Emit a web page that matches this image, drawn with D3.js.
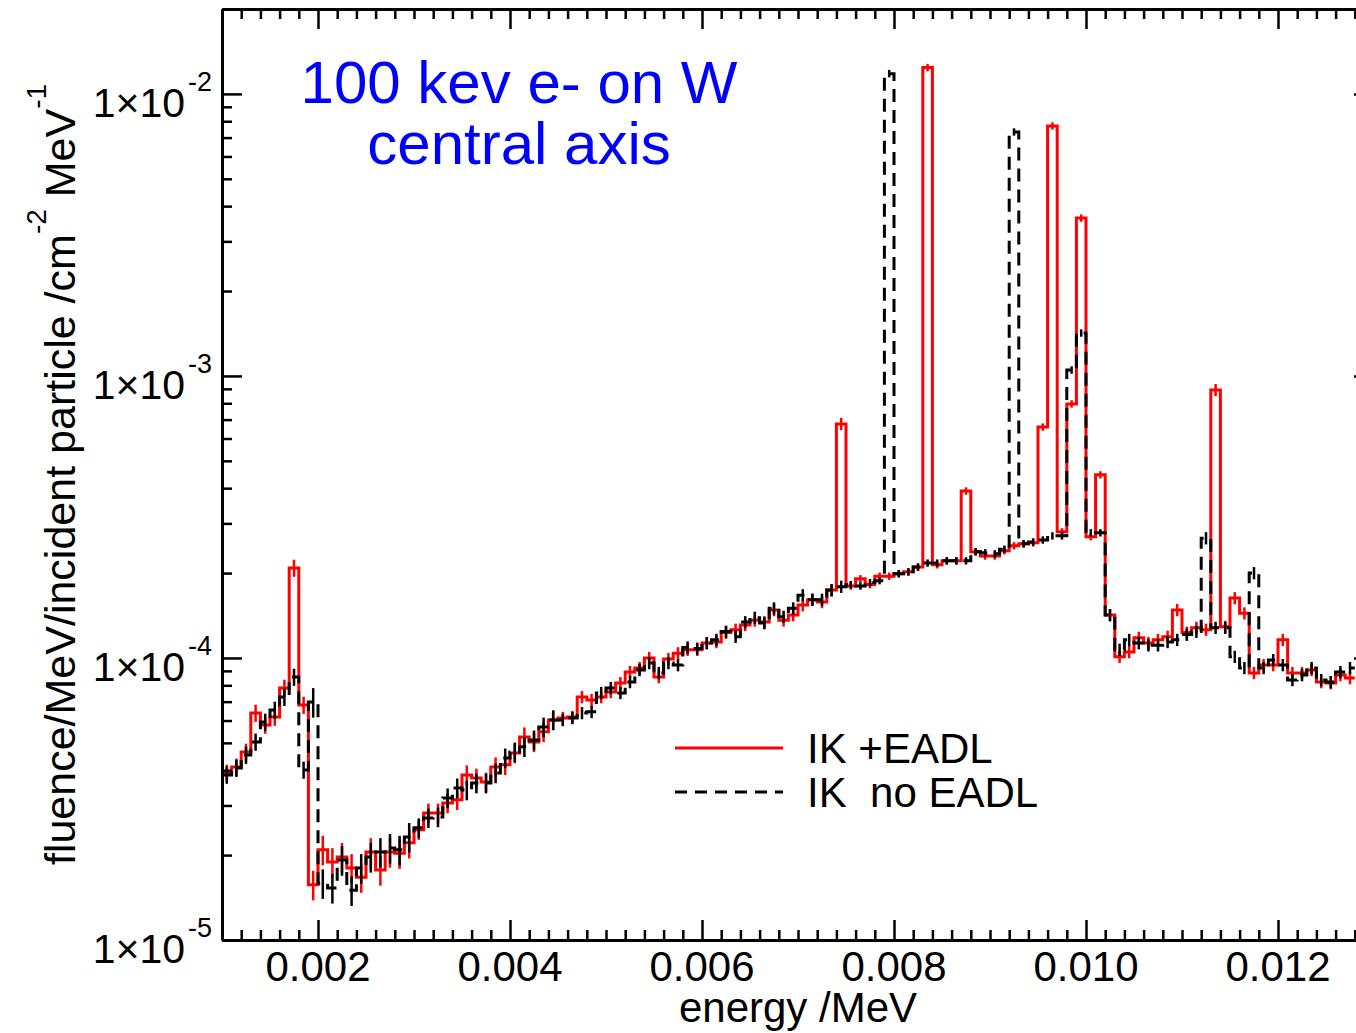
<!DOCTYPE html>
<html><head><meta charset="utf-8">
<script src="https://cdn.jsdelivr.net/npm/d3@7"></script>
<style>
body{margin:0;background:#fff}
svg{display:block}
text{font-family:"Liberation Sans",Arial,Helvetica,sans-serif}
</style>
</head><body>
<svg id="c" width="1356" height="1033"></svg>
<script>
// ---- data ----
const binStart = 0.001;      // MeV, low edge of first bin
const binWidth = 0.0001;     // MeV
const ikEadl = [
 3.91e-5,4.11e-5,4.64e-5,6.38e-5,5.79e-5,6.18e-5,7.83e-5,2.085e-4,6.81e-5,1.57e-5,
 2.09e-5,1.89e-5,1.97e-5,1.80e-5,1.67e-5,2.05e-5,1.77e-5,2.05e-5,2.03e-5,2.21e-5,
 2.46e-5,2.82e-5,2.82e-5,3.06e-5,3.14e-5,3.85e-5,3.75e-5,3.63e-5,4.11e-5,4.18e-5,
 4.60e-5,5.25e-5,5.04e-5,5.47e-5,6.03e-5,6.13e-5,6.18e-5,7.27e-5,7.10e-5,7.27e-5,
 7.58e-5,8.15e-5,8.92e-5,9.22e-5,1.00e-4,8.56e-5,9.92e-5,1.04e-4,1.07e-4,1.07e-4,
 1.13e-4,1.14e-4,1.23e-4,1.26e-4,1.31e-4,1.36e-4,1.34e-4,1.48e-4,1.36e-4,1.42e-4,
 1.54e-4,1.61e-4,1.58e-4,1.74e-4,6.76e-4,1.80e-4,1.91e-4,1.82e-4,1.95e-4,1.95e-4,
 1.99e-4,2.02e-4,2.10e-4,1.24e-2,2.14e-4,2.21e-4,2.21e-4,3.91e-4,2.38e-4,2.30e-4,
 2.30e-4,2.40e-4,2.50e-4,2.54e-4,2.56e-4,6.59e-4,7.70e-3,2.80e-4,7.96e-4,3.63e-3,
 2.69e-4,4.46e-4,1.42e-4,1.01e-4,1.05e-4,1.18e-4,1.13e-4,1.16e-4,1.19e-4,1.48e-4,
 1.23e-4,1.28e-4,1.26e-4,8.92e-4,1.29e-4,1.63e-4,1.44e-4,8.85e-5,9.44e-5,9.44e-5,
 1.16e-4,8.85e-5,8.85e-5,9.07e-5,8.22e-5,8.15e-5,8.70e-5,8.49e-5
];
const ikNoEadl = [
 3.85e-5,4.07e-5,4.53e-5,5.04e-5,5.93e-5,6.54e-5,7.27e-5,8.56e-5,4.01e-5,6.98e-5,
 1.59e-5,1.53e-5,1.92e-5,1.50e-5,1.80e-5,1.97e-5,2.05e-5,2.12e-5,2.09e-5,2.32e-5,
 2.50e-5,2.71e-5,2.73e-5,3.19e-5,3.46e-5,3.40e-5,3.60e-5,3.60e-5,3.91e-5,4.42e-5,
 4.64e-5,4.84e-5,5.12e-5,5.69e-5,6.03e-5,6.03e-5,6.13e-5,6.38e-5,6.44e-5,7.52e-5,
 7.83e-5,7.52e-5,8.22e-5,9.07e-5,9.60e-5,8.85e-5,9.60e-5,9.44e-5,1.09e-4,1.08e-4,
 1.13e-4,1.16e-4,1.24e-4,1.19e-4,1.34e-4,1.39e-4,1.33e-4,1.50e-4,1.40e-4,1.50e-4,
 1.67e-4,1.61e-4,1.61e-4,1.74e-4,1.79e-4,1.82e-4,1.80e-4,1.85e-4,1.88e-4,1.18e-2,
 1.99e-4,2.02e-4,2.10e-4,2.17e-4,2.17e-4,2.21e-4,2.21e-4,2.21e-4,2.38e-4,2.36e-4,
 2.34e-4,2.43e-4,7.33e-3,2.54e-4,2.58e-4,2.62e-4,2.71e-4,2.71e-4,1.05e-3,1.42e-3,
 2.78e-4,2.78e-4,1.42e-4,1.07e-4,1.16e-4,1.13e-4,1.11e-4,1.11e-4,1.14e-4,1.16e-4,
 1.21e-4,1.24e-4,2.66e-4,1.28e-4,1.28e-4,1.01e-4,9.22e-5,2.00e-4,9.22e-5,9.84e-5,
 9.44e-5,8.36e-5,8.70e-5,9.22e-5,8.36e-5,8.22e-5,8.92e-5,9.22e-5
];
// relative statistical uncertainty by energy band (band low edges, MeV)
const errBandEdges = [0.001, 0.0019, 0.003, 0.0045, 0.0075, 0.0102];
const errBandRel   = [0.07,  0.12,   0.08,  0.05,   0.03,   0.05];
const xMajorTicks = [0.002, 0.004, 0.006, 0.008, 0.010, 0.012];
const xTickLabels = ["0.002", "0.004", "0.006", "0.008", "0.010", "0.012"];
const yMajorTicks = [1e-5, 1e-4, 1e-3, 1e-2];
const yTickExponents = ["-5", "-4", "-3", "-2"];
const seriesNames = ["IK +EADL", "IK  no EADL"];
const titleLines = ["100 kev e- on W", "central axis"];

// ---- layout ----
const m = {left:222, top:9, right:1374, bottom:940};
const x = d3.scaleLinear().domain([0.001, 0.013]).range([m.left, m.right]);
const y = d3.scaleLog().domain([1e-5, 2e-2]).range([m.bottom, m.top]);
const FONT = 42;

const svg = d3.select("#c");
svg.append("rect").attr("width",1356).attr("height",1033).attr("fill","#fff");
svg.append("defs").append("clipPath").attr("id","clip").append("rect")
  .attr("x", m.left).attr("y", m.top).attr("width", m.right - m.left).attr("height", m.bottom - m.top);

function relErrAt(i){
  const e = binStart + (i + 0.5) * binWidth;
  let r = errBandRel[0];
  errBandEdges.forEach((b, k) => { if (e >= b) r = errBandRel[k]; });
  return r;
}
function stepData(vals){
  const pts = vals.map((v, i) => [binStart + i * binWidth, v]);
  pts.push([binStart + vals.length * binWidth, vals[vals.length - 1]]);
  return pts;
}
const line = d3.line().x(d => x(d[0])).y(d => y(d[1])).curve(d3.curveStepAfter);

const plot = svg.append("g").attr("clip-path", "url(#clip)");
function drawSeries(vals, color, dash){
  plot.append("path").attr("d", line(stepData(vals)))
    .attr("fill", "none").attr("stroke", color).attr("stroke-width", 3)
    .attr("stroke-dasharray", dash || null).attr("stroke-linejoin","miter");
  plot.append("g").selectAll("line").data(vals).join("line")
    .attr("x1", (d, i) => x(binStart + (i + 0.5) * binWidth))
    .attr("x2", (d, i) => x(binStart + (i + 0.5) * binWidth))
    .attr("y1", (d, i) => y(d * (1 - relErrAt(i))))
    .attr("y2", (d, i) => y(d * (1 + relErrAt(i))))
    .attr("stroke", color).attr("stroke-width", 2.5);
}
drawSeries(ikEadl, "#ff0000", null);
drawSeries(ikNoEadl, "#000000", "13,8");

// ---- axes ----
const xMinor = d3.range(0, 61).map(i => +(0.001 + i * 0.0002).toFixed(4))
  .filter(v => !xMajorTicks.some(t => Math.abs(t - v) < 1e-9));
const yMinor = [];
[-5, -4, -3, -2].forEach(p => { for (let k = 2; k <= 9; k++) { const v = k * Math.pow(10, p); if (v <= 2e-2) yMinor.push(v); } });

function styleAxis(sel){
  sel.select(".domain").attr("stroke", "#000").attr("stroke-width", 3);
  sel.selectAll(".tick line").attr("stroke", "#000").attr("stroke-width", 2.5);
  sel.selectAll(".tick text").remove();
}
function addAxis(axisFn, scale, ticks, size, transform, showDomain){
  const a = axisFn(scale).tickValues(ticks).tickSize(size).tickSizeOuter(0).tickFormat("");
  const g = svg.append("g").attr("transform", transform).call(a);
  styleAxis(g);
  if (!showDomain) g.select(".domain").remove();
  return g;
}
addAxis(d3.axisBottom, x, xMinor, -10, `translate(0,${m.bottom})`, false);
addAxis(d3.axisBottom, x, xMajorTicks, -20, `translate(0,${m.bottom})`, true);
addAxis(d3.axisTop, x, xMinor, -10, `translate(0,${m.top})`, false);
addAxis(d3.axisTop, x, xMajorTicks, -20, `translate(0,${m.top})`, true);
addAxis(d3.axisLeft, y, yMinor, -10, `translate(${m.left},0)`, false);
addAxis(d3.axisLeft, y, yMajorTicks, -20, `translate(${m.left},0)`, true);
addAxis(d3.axisRight, y, yMinor, -10, `translate(${m.right},0)`, false);
addAxis(d3.axisRight, y, yMajorTicks, -20, `translate(${m.right},0)`, true);

// x tick labels
svg.append("g").selectAll("text").data(xMajorTicks).join("text")
  .attr("x", d => x(d)).attr("y", 981).attr("text-anchor", "middle")
  .attr("font-size", FONT).attr("fill", "#000")
  .text((d, i) => xTickLabels[i]);

// y tick labels 1×10^n
const yl = svg.append("g");
yMajorTicks.forEach((t, i) => {
  yl.append("text").attr("x", 185).attr("y", y(t) + 23).attr("text-anchor", "end")
    .attr("font-size", 41).attr("fill", "#000").text("1\u00d710");
  yl.append("text").attr("x", 188).attr("y", y(t) - 3).attr("text-anchor", "start")
    .attr("font-size", 27).attr("fill", "#000").text(yTickExponents[i]);
});

// axis titles
svg.append("text").attr("x", (m.left + m.right) / 2).attr("y", 1022).attr("text-anchor", "middle")
  .attr("font-size", FONT).attr("fill", "#000").text("energy /MeV");

const yt = svg.append("text").attr("transform", `translate(75,${(m.top + m.bottom) / 2}) rotate(-90)`)
  .attr("text-anchor", "middle").attr("font-size", 43).attr("fill", "#000");
yt.append("tspan").text("fluence/MeV/incident particle /cm");
yt.append("tspan").attr("font-size", 28).attr("dy", -29).text("-2");
yt.append("tspan").attr("dy", 29).text(" MeV");
yt.append("tspan").attr("font-size", 28).attr("dy", -29).text("-1");

// title
svg.append("g").selectAll("text").data(titleLines).join("text")
  .attr("x", 519).attr("y", (d, i) => 103 + i * 61).attr("text-anchor", "middle")
  .attr("font-size", 60).attr("fill", "#0000ff").text(d => d);

// legend
const lg = svg.append("g");
const legendStyles = [{c:"#ff0000", dash:null}, {c:"#000000", dash:"12,8"}];
seriesNames.forEach((name, i) => {
  const ly = 748 + i * 44;
  lg.append("line").attr("x1", 675).attr("x2", 783).attr("y1", ly).attr("y2", ly)
    .attr("stroke", legendStyles[i].c).attr("stroke-width", 3)
    .attr("stroke-dasharray", legendStyles[i].dash);
  lg.append("text").attr("x", 807).attr("y", ly + 15).attr("font-size", FONT)
    .attr("fill", "#000").attr("xml:space", "preserve").style("white-space", "pre").text(name);
});
</script>
</body></html>
